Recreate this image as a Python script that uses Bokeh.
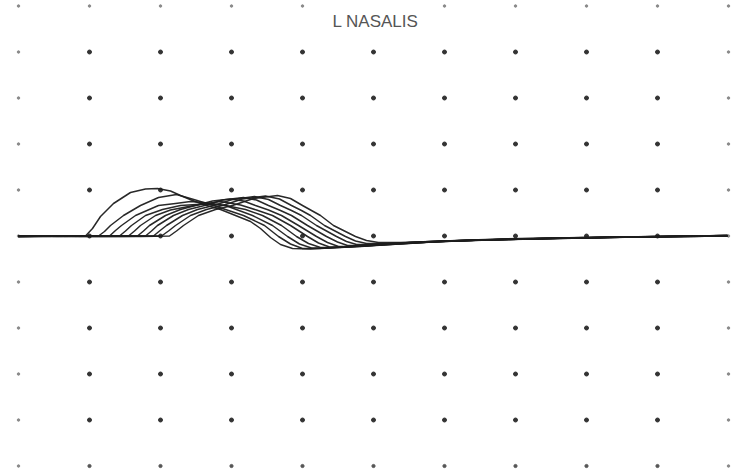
from bokeh.plotting import figure
from bokeh.models import Range1d, Label
from bokeh.embed import file_html
from bokeh.resources import INLINE

# time in samples (71 samples per division), amplitude in units (46 units per division)
title = "L NASALIS"
samples_per_div = 71
units_per_div = 46
n_xdiv = 10
n_ydiv = 5

t1_x = [0,32,67,74,82,95,112,127,139,152,162,174,185,202,217,232,242,252,262,274,292,322,362,412,482,582,709]
t1_y = [-0.5,0,0,7.5,19.5,32.5,43.5,47,47.5,45,40.5,35.5,31.5,26.5,20.5,14.5,7.5,-1.5,-8.5,-12.5,-13,-11,-8,-5.5,-3.5,-1.5,0]

t2_x = [0,42,80,86,92,105,122,140,158,177,195,210,225,246,260,272,284,302,332,372,422,492,592,709]
t2_y = [0,-0.5,0,4.5,10.5,20.5,30.5,38.5,41.5,36,30.5,25.5,20.5,10.5,-0.5,-8,-12.5,-12.5,-10.5,-7.5,-5,-3.5,-1.5,0.5]

t3_x = [0,52,91,97,103,117,140,157,172,190,207,234,254,269,281,293,312,342,382,432,502,602,709]
t3_y = [-0.5,0,0,5.5,10.5,20.5,30.5,32.5,34.5,33,30.5,20.5,10.5,-0.5,-8,-12,-12,-10,-7,-5,-3,-1,0]

t4_x = [0,62,101,107,113,127,144,162,186,207,227,244,263,278,290,302,322,352,392,442,512,612,709]
t4_y = [0,-0.5,0,5,10.5,20.5,26.5,30.5,32,30.5,26.5,20.5,10.5,-0.5,-7.5,-11.5,-11.5,-9.5,-6.5,-4.5,-3,-1,0.5]

t5_x = [0,72,110,116,122,137,152,170,185,202,222,238,254,272,289,300,311,332,362,402,452,522,622,709]
t5_y = [-0.5,0,0,5,10.5,20.5,26,29.5,32,34.5,31,26,20.5,10.5,-0.5,-7,-11,-11,-9,-6.5,-4.5,-2.5,-1,0]

t6_x = [0,82,119,125,131,147,162,177,194,212,225,237,250,263,280,298,309,320,342,372,412,462,532,632,709]
t6_y = [0,-0.5,0,5,10.5,20.5,26.5,30.5,35,37,35,30.5,26,20.5,10.5,-0.5,-6.5,-10.5,-10.5,-8.5,-6,-4,-2.5,-0.5,0.5]

t7_x = [0,92,127,133,139,155,170,186,204,225,238,250,262,273,289,308,319,329,352,382,422,472,542,642,709]
t7_y = [-0.5,0,0,5,10.5,20.5,26.5,30.5,36,38.5,36,30.5,25.5,20.5,10.5,-0.5,-6,-9.5,-9.5,-8,-5.5,-4,-2,-0.5,0]

t8_x = [0,102,135,141,148,164,179,195,214,236,250,262,273,283,298,318,328,338,362,392,432,482,552,652,709]
t8_y = [0,-0.5,0,5,10.5,20.5,26.5,30.5,36.5,39.5,36.5,30.5,25.5,20.5,10.5,-0.5,-5.5,-8.5,-8.5,-7,-5,-3.5,-2,-0.5,0.5]

t9_x = [0,112,143,150,157,172,188,204,224,247,261,273,283,292,306,327,337,348,372,402,442,492,562,662,709]
t9_y = [-0.5,0,0,5,10.5,20.5,26.5,30.5,37,40,37,30.5,25.5,20.5,10.5,-0.5,-5,-7.5,-7.5,-6.5,-4.5,-3,-1.5,-0.5,0]

t10_x = [0,122,151,158,165,180,197,214,235,259,272,284,293,302,315,337,348,360,382,412,452,502,572,672,709]
t10_y = [0,-0.5,0,5,10.5,20.5,26.5,30.5,37.5,40.5,37.5,30.5,25.5,20.5,10.5,-0.5,-4.5,-6.5,-6.5,-5.5,-4,-2.5,-1.5,0,0.5]

traces = [(t1_x, t1_y), (t2_x, t2_y), (t3_x, t3_y), (t4_x, t4_y), (t5_x, t5_y),
          (t6_x, t6_y), (t7_x, t7_y), (t8_x, t8_y), (t9_x, t9_y), (t10_x, t10_y)]

W, H = 736, 474
p = figure(width=W, height=H, output_backend="svg", toolbar_location=None,
           x_range=Range1d(-18, 718), y_range=Range1d(235.5 - 474, 235.5),
           min_border=0, outline_line_color=None, background_fill_color="white",
           border_fill_color="white")
p.axis.visible = False
p.xgrid.visible = False
p.ygrid.visible = False

# dotted division grid
inner_x, inner_y, edge_x, edge_y, bot_x, bot_y = [], [], [], [], [], []
for k in range(n_xdiv + 1):
    for j in range(-n_ydiv, n_ydiv + 1):
        gx, gy = k * samples_per_div, j * units_per_div
        if j == n_ydiv and k == 5:
            continue
        if k == 0 or k == n_xdiv or j == n_ydiv:
            edge_x.append(gx); edge_y.append(gy)
        elif j == -n_ydiv:
            bot_x.append(gx); bot_y.append(gy)
        else:
            inner_x.append(gx); inner_y.append(gy)

p.scatter(inner_x, inner_y, size=4, color="#333333", marker="circle")
p.scatter(bot_x, bot_y, size=3.2, color="#555555", marker="circle")
p.scatter(edge_x, edge_y, size=2.5, color="#8a8a8a", marker="circle")

for tx, ty in traces:
    p.line(tx, ty, line_color="#1e1e1e", line_width=1.5, line_join="round", line_alpha=0.95)

p.add_layout(Label(x=5 * samples_per_div + 2, y=235.5 - 21, text=title,
                   text_align="center", text_baseline="alphabetic",
                   text_font="Liberation Sans", text_font_size="17px",
                   text_color="#555555"))

open("out.html", "w").write(file_html(p, INLINE))
